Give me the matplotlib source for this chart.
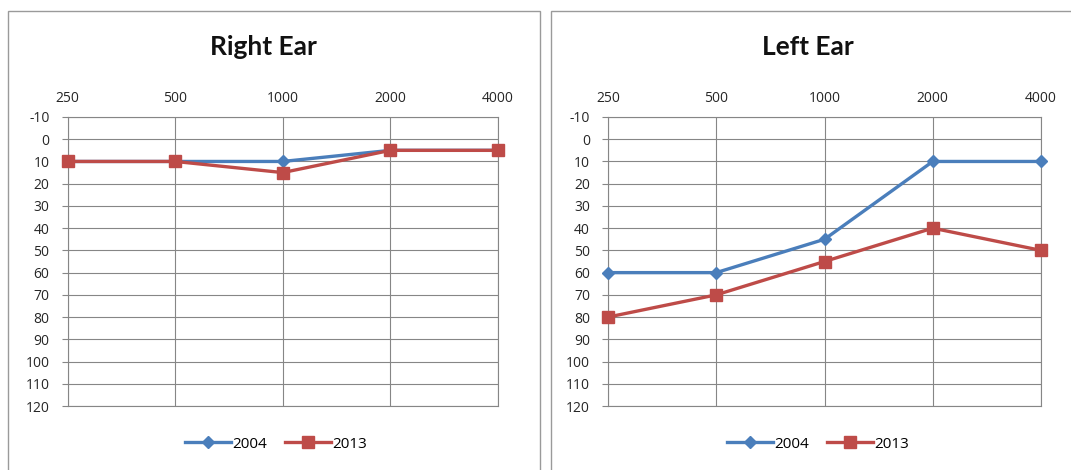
import matplotlib
matplotlib.use("Agg")
import matplotlib.pyplot as plt
from matplotlib.patches import Rectangle

freqs = ["250", "500", "1000", "2000", "4000"]
years = ["2004", "2013"]
right_2004 = [10, 10, 10, 5, 5]
right_2013 = [10, 10, 15, 5, 5]
left_2004 = [60, 60, 45, 10, 10]
left_2013 = [80, 70, 55, 40, 50]
db_ticks = list(range(-10, 121, 10))

BLUE = "#4A7EBB"
RED = "#BE4B48"
GRID = "#868686"

plt.rcParams["font.family"] = ["Open Sans", "DejaVu Sans"]
plt.rcParams["axes.unicode_minus"] = False

W, H = 1071, 470
fig = plt.figure(figsize=(W / 100, H / 100), dpi=100)
fig.patch.set_facecolor("white")


def px_box(x0, y0, x1, y1):
    # pixel coords (top-left origin) -> figure fraction [l, b, w, h]
    return [x0 / W, 1 - y1 / H, (x1 - x0) / W, (y1 - y0) / H]


def audiogram(rect, title, vals_a, vals_b, frame, title_x, legend_x):
    # outer chart frame
    fx0, fy0, fx1, fy1 = frame
    fig.add_artist(Rectangle((fx0 / W, 1 - fy1 / H), (fx1 - fx0) / W, (fy1 - fy0) / H,
                             transform=fig.transFigure, fill=False,
                             edgecolor="#9a9a9a", linewidth=1.0))

    ax = fig.add_axes(rect)
    x = range(len(freqs))
    ax.plot(x, vals_a, color=BLUE, lw=2.4, marker="D", ms=6.5,
            mfc=BLUE, mec=BLUE, clip_on=False, label=years[0], zorder=3)
    ax.plot(x, vals_b, color=RED, lw=2.4, marker="s", ms=8.5,
            mfc=RED, mec=RED, clip_on=False, label=years[1], zorder=4)

    ax.set_xlim(0, len(freqs) - 1)
    ax.set_ylim(120, -10)
    ax.set_xticks(list(x))
    ax.set_xticklabels(freqs)
    ax.set_yticks(db_ticks)
    ax.xaxis.tick_top()
    ax.tick_params(axis="x", length=0, pad=8, labelsize=10, labelcolor="#262626")
    ax.tick_params(axis="y", length=4, width=0.8, color=GRID, pad=9,
                   labelsize=10, labelcolor="#262626")
    ax.grid(True, color=GRID, lw=0.8)
    ax.set_axisbelow(True)
    for s in ax.spines.values():
        s.set_color(GRID)
        s.set_linewidth(0.8)

    fig.text(title_x / W, 1 - 47 / H, title, ha="center", va="center",
             fontsize=19, fontweight="bold", family=["Lato", "DejaVu Sans"],
             color="#111111")

    fig.legend(handles=ax.get_lines(), labels=years, loc="center",
               bbox_to_anchor=(legend_x / W, 1 - 444 / H), ncol=2,
               frameon=False, fontsize=11, handlelength=3.0,
               handletextpad=0.1, columnspacing=1.2)
    return ax


audiogram(px_box(67.5, 117, 498, 406), "Right Ear", right_2004, right_2013,
          (8, 11, 540, 475), 263, 276)
audiogram(px_box(608, 117, 1041, 406), "Left Ear", left_2004, left_2013,
          (551, 11, 1076, 475), 808, 818)

fig.savefig("out.png", dpi=100, facecolor="white")
